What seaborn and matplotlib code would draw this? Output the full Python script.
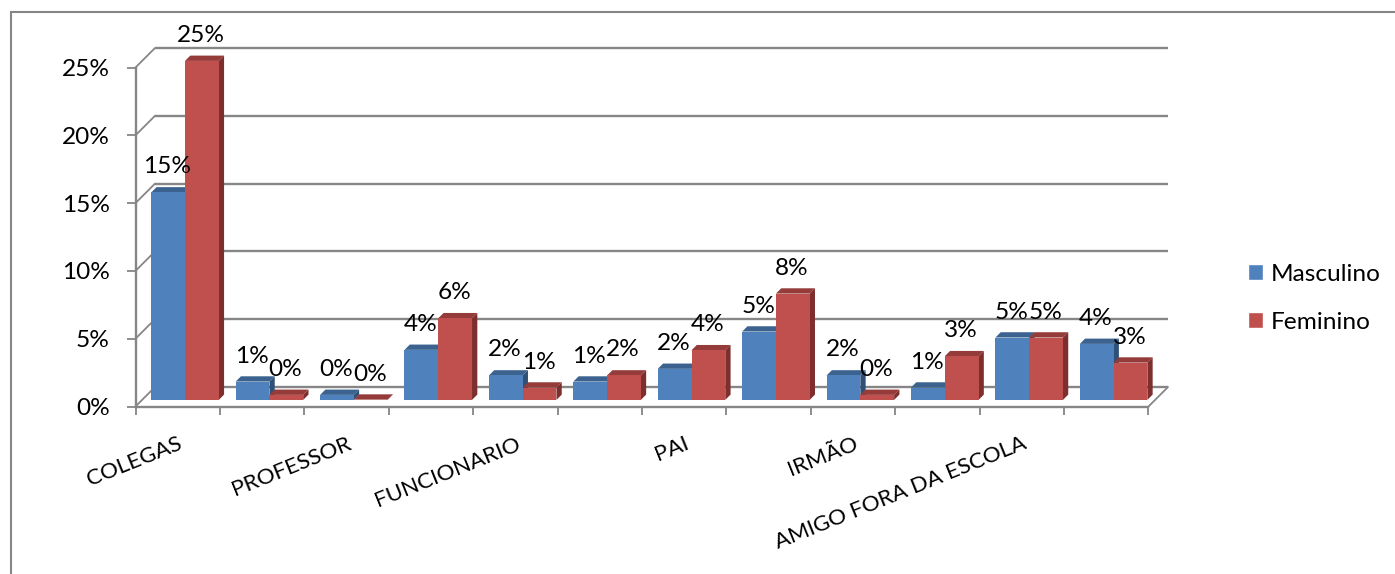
import matplotlib
matplotlib.use("Agg")
import matplotlib.pyplot as plt
from matplotlib.patches import Polygon, Rectangle
from matplotlib.transforms import Affine2D
import pandas as pd
import seaborn as sns

CATEGORIES = ["COLEGAS", "c2", "PROFESSOR", "c4", "FUNCIONARIO", "c6",
              "PAI", "c8", "IRMÃO", "c10", "AMIGO FORA DA ESCOLA", "c12"]
MASCULINO = [15.3, 1.35, 0.37, 3.69, 1.8, 1.35, 2.29, 5.04, 1.8, 0.91, 4.6, 4.13]
FEMININO = [25.0, 0.37, 0.02, 6.02, 0.91, 1.8, 3.66, 7.84, 0.37, 3.22, 4.6, 2.75]
MASCULINO_LABELS = ["15%", "1%", "0%", "4%", "2%", "1%", "2%", "5%", "2%", "1%", "5%", "4%"]
FEMININO_LABELS = ["25%", "0%", "0%", "6%", "1%", "2%", "4%", "8%", "0%", "3%", "5%", "3%"]
Y_TICKS = [0, 5, 10, 15, 20, 25]
Y_TICK_LABELS = ["0%", "5%", "10%", "15%", "20%", "25%"]

W, H = 1395, 574
FS = 17.6
GRID = "#868686"
sns.set_theme(style="white")
plt.rcParams["font.family"] = ["Lato", "DejaVu Sans"]

df = pd.DataFrame({
    "cat": CATEGORIES * 2,
    "val": MASCULINO + FEMININO,
    "sexo": ["Masculino"] * 12 + ["Feminino"] * 12,
})

fig = plt.figure(figsize=(W / 100, H / 100), dpi=100, facecolor="white")
# front plane of the 3D box, in pixels
L, R, Y0, Y25 = 135.5, 1148.5, 406.5, 67.5
ax = fig.add_axes([L / W, 1 - Y0 / H, (R - L) / W, (Y0 - Y25) / H])
sns.barplot(data=df, x="cat", y="val", hue="sexo", order=CATEGORIES,
            palette={"Masculino": "#4F81BD", "Feminino": "#C0504D"},
            width=0.8, gap=0, saturation=1, errorbar=None, ax=ax, zorder=5)
ax.set_xlim(-0.5, 11.5)
ax.set_ylim(0, 25)
ax.set_xlabel("")
ax.set_ylabel("")
ax.patch.set_alpha(0)

px_x = (R - L) / 12
px_y = (Y0 - Y25) / 25
BAR_DX, BAR_DY = 7.3, 6.6    # bars stand inside the floor
DEPTH = 5.3
BACK = 19.5

bar_shift = ax.transData + Affine2D().translate(BAR_DX, BAR_DY)
back_shift = ax.transData + Affine2D().translate(BACK, BACK)

styles = [("#3C6390", "#2F5178", MASCULINO_LABELS), ("#953B39", "#7D2F2D", FEMININO_LABELS)]
for order, (container, (top_c, side_c, labels)) in enumerate(zip(ax.containers, styles)):
    for bar, lab in zip(container, labels):
        x0, w, h = bar.get_x(), bar.get_width(), bar.get_height()
        bar.set_transform(bar_shift)
        bar.set_clip_on(False)
        bar.set_linewidth(0)
        dx, dy = DEPTH / px_x, DEPTH / px_y
        z = 5 + order
        bar.set_zorder(z + 0.2)
        ax.add_patch(Polygon([(x0, h), (x0 + w, h), (x0 + w + dx, h + dy), (x0 + dx, h + dy)],
                             closed=True, fc=top_c, ec="none", transform=bar_shift,
                             clip_on=False, zorder=z))
        ax.add_patch(Polygon([(x0 + w, 0), (x0 + w + dx, dy), (x0 + w + dx, h + dy), (x0 + w, h)],
                             closed=True, fc=side_c, ec="none", transform=bar_shift,
                             clip_on=False, zorder=z))
        ax.annotate(lab, xy=(x0 + w / 2, h), xytext=((BAR_DX - 1) * 0.72, (BAR_DY + 25.5) * 0.72),
                    textcoords="offset points", ha="center", va="center",
                    fontsize=FS, color="black", zorder=20, annotation_clip=False)

# back wall gridlines and the diagonals joining them to the value axis
for v in Y_TICKS:
    ax.plot([-0.5, 11.5], [v, v], color=GRID, lw=1.7, transform=back_shift, clip_on=False,
            zorder=1, solid_capstyle="butt")
    ax.plot([-0.5, -0.5 + BACK / px_x], [v, v + BACK / px_y], color=GRID, lw=1.3, clip_on=False, zorder=1)
ax.plot([11.5, 11.5 + BACK / px_x], [0, BACK / px_y], color=GRID, lw=1.3, clip_on=False, zorder=1)

for s in ["top", "right"]:
    ax.spines[s].set_visible(False)
for s in ["left", "bottom"]:
    ax.spines[s].set_color(GRID)
    ax.spines[s].set_linewidth(1.7)
    ax.spines[s].set_zorder(2)

ax.set_yticks(Y_TICKS, Y_TICK_LABELS)
ax.tick_params(axis="y", length=6.5, width=1.3, color=GRID, pad=12, labelsize=FS,
               labelcolor="black", left=True)
ax.set_xticks(range(0, 12, 2), CATEGORIES[::2])
ax.set_xticks([i - 0.5 for i in range(13)], minor=True)
ax.tick_params(axis="x", which="major", length=0, pad=19.5, labelsize=16.1, labelcolor="black")
ax.tick_params(axis="x", which="minor", length=6, width=1.3, color=GRID, bottom=True)
for t in ax.get_xticklabels():
    t.set_rotation(22)
    t.set_ha("right")
    t.set_va("top")
    t.set_rotation_mode("anchor")

handles, names = ax.get_legend_handles_labels()
leg = ax.legend(handles, names, loc="upper left", frameon=False, fontsize=FS,
                bbox_to_anchor=(1248 / W, 1 - 264 / H), bbox_transform=fig.transFigure,
                handlelength=0.62, handleheight=0.62, handletextpad=0.3, labelspacing=1.1,
                borderpad=0, borderaxespad=0)
for t in leg.get_texts():
    t.set_color("black")

# chart-area border
fig.add_artist(Rectangle((11 / W, -0.05), 1.2, 1 - 12 / H + 0.05, transform=fig.transFigure,
                         fill=False, ec=GRID, lw=1.5))

fig.savefig("out.png", dpi=100)
